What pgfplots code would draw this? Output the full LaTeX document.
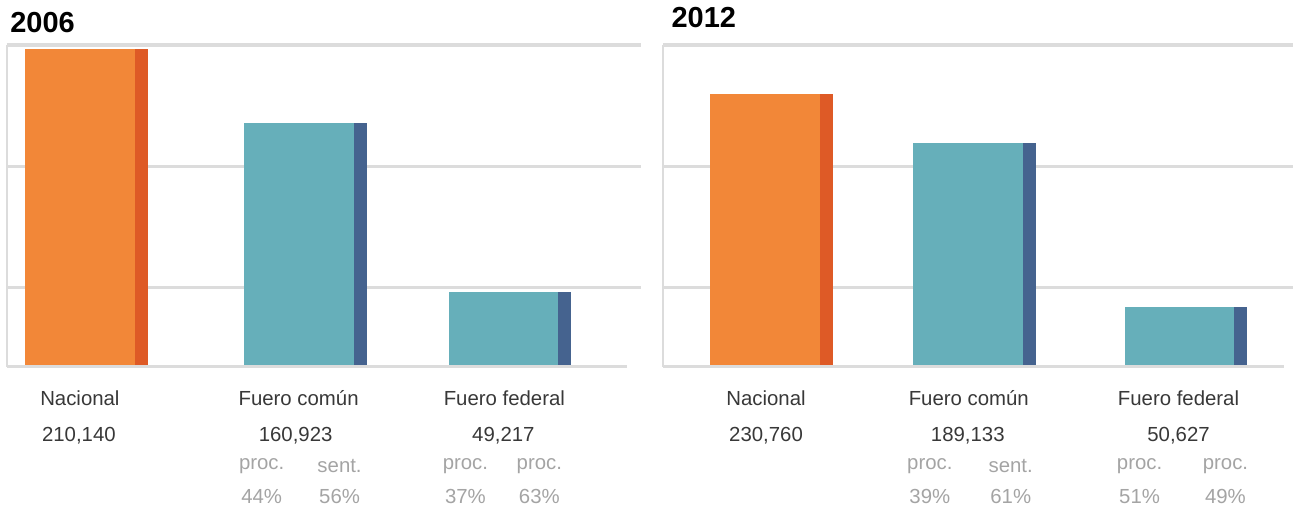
\documentclass[border=0pt]{standalone}
\usepackage{pgfplots}
\pgfplotsset{compat=1.18}
\usepackage{fontspec}
\setmainfont{Liberation Sans}
\definecolor{orA}{HTML}{F28738}
\definecolor{orB}{HTML}{DE5A26}
\definecolor{tlA}{HTML}{66AFBA}
\definecolor{tlB}{HTML}{45638F}
\definecolor{gridc}{HTML}{DCDCDC}
\definecolor{txtd}{HTML}{383838}
\definecolor{txtl}{HTML}{A4A4A4}
\pgfplotsset{
  panel/.style={
    scale only axis, anchor=south west,
    axis lines=none,
    ymin=0, xtick=\empty, ytick=\empty,
    ybar, bar shift=0pt, clip=false,
  },
  mainbar/.style={draw=none, bar width=110},
  stripbar/.style={draw=none, bar width=13},
}
\begin{document}
\begin{tikzpicture}
\begin{scope}[x=0.5bp,y=-0.5bp]
\useasboundingbox (0,0) rectangle (1295,509);
\end{scope}
% ---------- 2006 ----------
\begin{axis}[panel, at={(3.5bp,-183.5bp)}, width=317.5bp, height=161bp,
  xmin=7, xmax=642, ymax=212520]
\draw[gridc, line width=1.6bp] (axis cs:7,52140) -- (axis cs:642,52140);
\draw[gridc, line width=1.6bp] (axis cs:7,132000) -- (axis cs:642,132000);
\draw[gridc, line width=1.6bp] (axis cs:7,212520) -- (axis cs:642,212520);
\draw[gridc, line width=1bp] (axis cs:7,0) -- (axis cs:7,212520);
\addplot[mainbar, fill=orA] coordinates {(80,210140)};
\addplot[stripbar, fill=orB] coordinates {(141.5,210140)};
\addplot[mainbar, fill=tlA] coordinates {(299.5,160923)};
\addplot[stripbar, fill=tlB] coordinates {(361,160923)};
\addplot[mainbar, fill=tlA] coordinates {(504.5,49217)};
\addplot[stripbar, fill=tlB] coordinates {(565.5,49217)};
\draw[gridc, line width=1.7bp] (axis cs:7,0) -- (axis cs:628,0);
\end{axis}
% ---------- 2012 ----------
\begin{axis}[panel, at={(332bp,-183.5bp)}, width=315.5bp, height=161bp,
  xmin=664, xmax=1295, ymax=272090]
\draw[gridc, line width=1.6bp] (axis cs:664,66755) -- (axis cs:1295,66755);
\draw[gridc, line width=1.6bp] (axis cs:664,169000) -- (axis cs:1295,169000);
\draw[gridc, line width=1.6bp] (axis cs:664,272090) -- (axis cs:1295,272090);
\draw[gridc, line width=1bp] (axis cs:664,0) -- (axis cs:664,272090);
\addplot[mainbar, fill=orA] coordinates {(766,230760)};
\addplot[stripbar, fill=orB] coordinates {(827.5,230760)};
\addplot[mainbar, fill=tlA] coordinates {(969.5,189133)};
\addplot[stripbar, fill=tlB] coordinates {(1030.5,189133)};
\addplot[mainbar, fill=tlA] coordinates {(1181,50627)};
\addplot[stripbar, fill=tlB] coordinates {(1242,50627)};
\draw[gridc, line width=1.7bp] (axis cs:664,0) -- (axis cs:1286,0);
\end{axis}
% ---------- text ----------
\begin{scope}[x=0.5bp,y=-0.5bp]
\node[anchor=west, inner sep=0pt, font=\fontsize{14.5bp}{16bp}\selectfont\bfseries] at (10,23) {2006};
\node[anchor=west, inner sep=0pt, font=\fontsize{14.5bp}{16bp}\selectfont\bfseries] at (672,18) {2012};
\tikzset{lab/.style={inner sep=0pt, text=txtd, font=\fontsize{10.2bp}{12bp}\selectfont},
         sub/.style={inner sep=0pt, text=txtl, font=\fontsize{10.2bp}{12bp}\selectfont}}
% 2006
\node[lab] at (80,399) {Nacional};
\node[lab] at (79,436) {210,140};
\node[lab] at (299,399) {Fuero común};
\node[lab] at (296,436) {160,923};
\node[lab] at (505,399) {Fuero federal};
\node[lab] at (504,436) {49,217};
\node[sub] at (262,467) {proc.};
\node[sub] at (340,467) {sent.};
\node[sub] at (262,497) {44\%};
\node[sub] at (340,497) {56\%};
\node[sub] at (466,467) {proc.};
\node[sub] at (540,467) {proc.};
\node[sub] at (466,497) {37\%};
\node[sub] at (540,497) {63\%};
% 2012
\node[lab] at (767,399) {Nacional};
\node[lab] at (767,436) {230,760};
\node[lab] at (970,399) {Fuero común};
\node[lab] at (969,436) {189,133};
\node[lab] at (1180,399) {Fuero federal};
\node[lab] at (1180,436) {50,627};
\node[sub] at (931,467) {proc.};
\node[sub] at (1012,467) {sent.};
\node[sub] at (931,497) {39\%};
\node[sub] at (1012,497) {61\%};
\node[sub] at (1141,467) {proc.};
\node[sub] at (1227,467) {proc.};
\node[sub] at (1141,497) {51\%};
\node[sub] at (1227,497) {49\%};
\end{scope}
\end{tikzpicture}
\end{document}
